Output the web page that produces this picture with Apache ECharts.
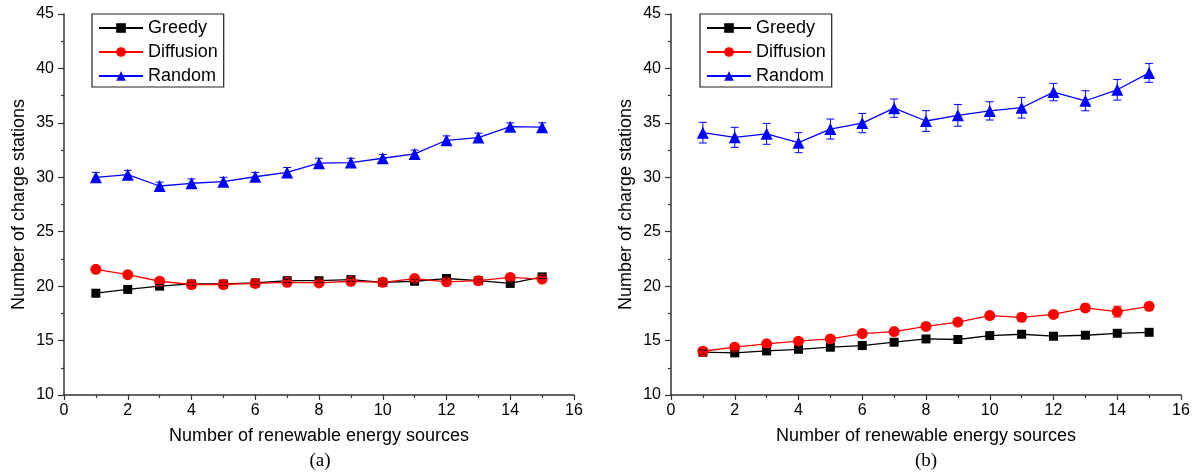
<!DOCTYPE html>
<html><head><meta charset="utf-8">
<script src="https://cdn.jsdelivr.net/npm/echarts@6/dist/echarts.min.js"></script>
<style>html,body{margin:0;padding:0;background:#fff}#c{width:1195px;height:476px}</style>
</head><body><div id="c"></div>
<script>
const xs = [1,2,3,4,5,6,7,8,9,10,11,12,13,14,15];
const xTicks = [0,2,4,6,8,10,12,14,16];
const yTicks = [10,15,20,25,30,35,40,45];
// Panel (a)
const greedyA = [19.35,19.7,20.0,20.2,20.2,20.3,20.5,20.5,20.6,20.35,20.45,20.7,20.5,20.25,20.85];
const greedyAErr = [0.15,0.15,0.15,0.15,0.15,0.15,0.15,0.15,0.15,0.15,0.15,0.15,0.15,0.15,0.15];
const diffA = [21.55,21.05,20.45,20.15,20.15,20.25,20.35,20.3,20.45,20.35,20.7,20.4,20.5,20.8,20.65];
const diffAErr = [0.15,0.15,0.15,0.15,0.15,0.15,0.15,0.15,0.15,0.15,0.15,0.15,0.15,0.15,0.15];
const randomA = [30.0,30.24,29.2,29.45,29.6,30.05,30.45,31.3,31.35,31.75,32.15,33.4,33.65,34.65,34.6];
const randomAErr = [0.45,0.4,0.35,0.4,0.4,0.4,0.45,0.45,0.4,0.35,0.35,0.4,0.4,0.35,0.4];
// Panel (b)
const greedyB = [13.93,13.87,14.05,14.2,14.39,14.54,14.85,15.15,15.1,15.46,15.58,15.4,15.49,15.67,15.76];
const greedyBErr = [0.2,0.2,0.2,0.2,0.2,0.2,0.2,0.2,0.2,0.2,0.2,0.2,0.2,0.2,0.2];
const diffB = [14.02,14.39,14.7,14.94,15.15,15.64,15.83,16.3,16.7,17.3,17.14,17.4,18.0,17.66,18.15];
const diffBErr = [0.25,0.25,0.25,0.25,0.25,0.25,0.25,0.3,0.3,0.3,0.35,0.3,0.35,0.5,0.35];
const randomB = [34.1,33.67,33.99,33.18,34.43,34.98,36.35,35.17,35.69,36.1,36.39,37.83,37.03,38.04,39.59];
const randomBErr = [0.95,0.92,0.96,0.92,0.92,0.89,0.84,0.95,1.0,0.84,0.95,0.8,0.92,0.95,0.87];

const names = ['Greedy','Diffusion','Random'];
const colors = {Greedy:'#000000', Diffusion:'#ff0000', Random:'#0000ff'};
const symbols = {Greedy:'rect', Diffusion:'circle', Random:'triangle'};
const sizes = {Greedy:9, Diffusion:11, Random:12};

const FONT = 'Liberation Sans, Arial, sans-serif';

function xAxis(gi){
  return {gridIndex:gi, type:'value', min:0, max:16, interval:2,
    name:'Number of renewable energy sources', nameLocation:'middle', nameGap:32,
    nameTextStyle:{fontFamily:FONT, fontSize:18, color:'#000'},
    axisLine:{show:true, onZero:false, lineStyle:{color:'#333', width:1.5}},
    axisTick:{show:true, inside:false, length:5, lineStyle:{color:'#333', width:1.2}},
    minorTick:{show:true, splitNumber:2, length:3, lineStyle:{color:'#333', width:1.2}},
    axisLabel:{fontFamily:FONT, fontSize:16, color:'#000', margin:8,
      formatter:v=> xTicks.includes(v)? String(v):''},
    splitLine:{show:false}};
}
function yAxis(gi){
  return {gridIndex:gi, type:'value', min:10, max:45, interval:5,
    name:'Number of charge stations', nameLocation:'middle', nameGap:36,
    nameTextStyle:{fontFamily:FONT, fontSize:18, color:'#000'},
    axisLine:{show:true, onZero:false, lineStyle:{color:'#333', width:1.5}},
    axisTick:{show:true, inside:false, length:6, lineStyle:{color:'#333', width:1.2}},
    minorTick:{show:true, splitNumber:2, length:3, lineStyle:{color:'#333', width:1.2}},
    axisLabel:{fontFamily:FONT, fontSize:16, color:'#000', margin:10,
      formatter:v=> yTicks.includes(v)? String(v):''},
    splitLine:{show:false}};
}

function lineSeries(name, vals, gi){
  return {name, type:'line', xAxisIndex:gi, yAxisIndex:gi,
    data: xs.map((x,i)=>[x, vals[i]]),
    symbol: symbols[name], symbolSize: sizes[name],
    itemStyle:{color:colors[name]}, lineStyle:{color:colors[name], width:1.3},
    z:3};
}
function errSeries(name, vals, errs, gi){
  return {name: name+' err', type:'custom', xAxisIndex:gi, yAxisIndex:gi,
    data: xs.map((x,i)=>[x, vals[i]-errs[i], vals[i]+errs[i]]),
    encode:{x:0, y:[1,2]}, z:4, silent:true,
    renderItem:(params, api)=>{
      const x = api.value(0);
      const lo = api.coord([x, api.value(1)]);
      const hi = api.coord([x, api.value(2)]);
      const hw = 4;
      const st = {stroke:colors[name], lineWidth:1};
      return {type:'group', children:[
        {type:'line', shape:{x1:lo[0], y1:lo[1], x2:hi[0], y2:hi[1]}, style:st},
        {type:'line', shape:{x1:lo[0]-hw, y1:lo[1], x2:lo[0]+hw, y2:lo[1]}, style:st},
        {type:'line', shape:{x1:hi[0]-hw, y1:hi[1], x2:hi[0]+hw, y2:hi[1]}, style:st}
      ]};
    }};
}

function legend(left){
  return {left, top:14, orient:'vertical', data:names,
    itemWidth:44, itemHeight:12, itemGap:4,
    padding:[4,6,1,6], borderColor:'#222', borderWidth:1.2,
    textStyle:{fontFamily:FONT, fontSize:18, color:'#000', lineHeight:20, padding:[0,0,0,0]},
    selectedMode:false};
}

const chart = echarts.init(document.getElementById('c'), null, {renderer:'canvas'});
chart.setOption({
  animation:false,
  backgroundColor:'#fff',
  grid:[{left:64, top:14, width:510, height:381},{left:671, top:14, width:510, height:381}],
  xAxis:[xAxis(0), xAxis(1)],
  yAxis:[yAxis(0), yAxis(1)],
  legend:[legend(92), legend(700)],
  graphic:[
    {type:'text', style:{text:'(a)', fontFamily:'Liberation Serif, Times New Roman, serif', fontSize:19, fill:'#000', textAlign:'center'}, position:[320,452]},
    {type:'text', style:{text:'(b)', fontFamily:'Liberation Serif, Times New Roman, serif', fontSize:19, fill:'#000', textAlign:'center'}, position:[926,452]}
  ],
  series:[
    lineSeries('Greedy', greedyA, 0), errSeries('Greedy', greedyA, greedyAErr, 0),
    lineSeries('Diffusion', diffA, 0), errSeries('Diffusion', diffA, diffAErr, 0),
    lineSeries('Random', randomA, 0), errSeries('Random', randomA, randomAErr, 0),
    lineSeries('Greedy', greedyB, 1), errSeries('Greedy', greedyB, greedyBErr, 1),
    lineSeries('Diffusion', diffB, 1), errSeries('Diffusion', diffB, diffBErr, 1),
    lineSeries('Random', randomB, 1), errSeries('Random', randomB, randomBErr, 1)
  ]
});
</script></body></html>
